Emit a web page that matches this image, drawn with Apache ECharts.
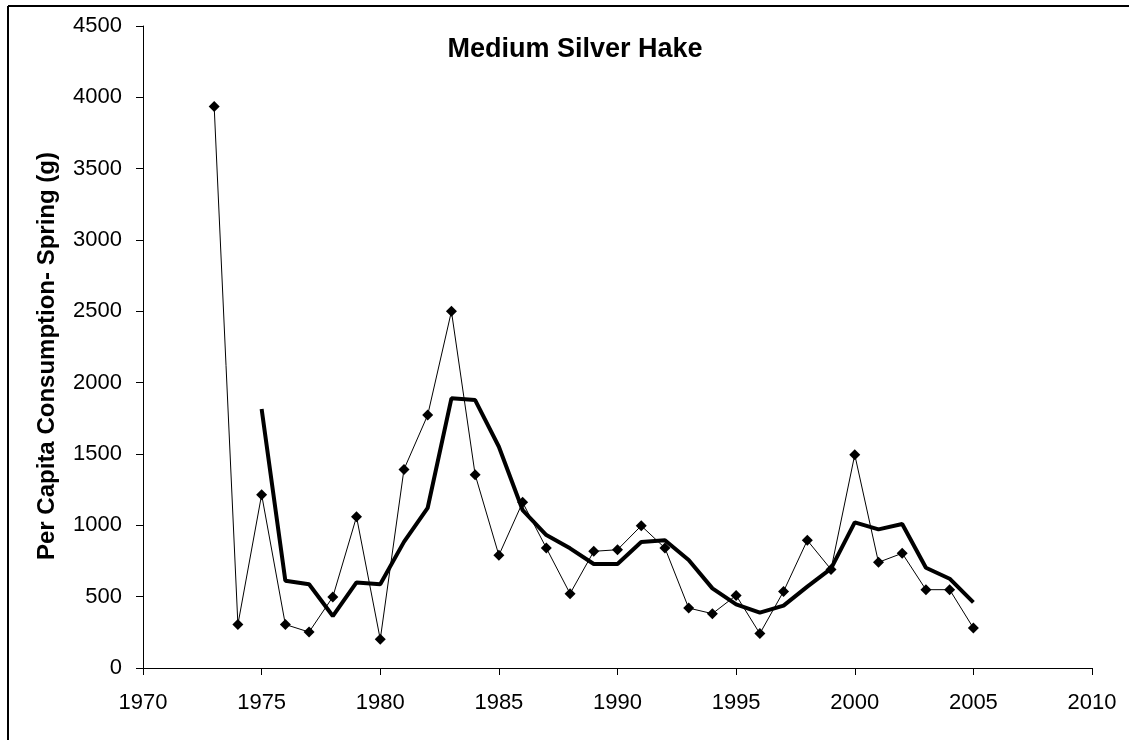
<!DOCTYPE html>
<html>
<head>
<meta charset="utf-8">
<script src="https://cdn.jsdelivr.net/npm/echarts@6/dist/echarts.min.js"></script>
<style>
html,body{margin:0;padding:0;background:#fff;}
#chart{width:1129px;height:740px;}
</style>
</head>
<body>
<div id="chart"></div>
<script>
var titleText = "Medium Silver Hake";
var yAxisName = "Per Capita Consumption- Spring (g)";
var years = [1973,1974,1975,1976,1977,1978,1979,1980,1981,1982,1983,1984,1985,1986,1987,1988,1989,1990,1991,1992,1993,1994,1995,1996,1997,1998,1999,2000,2001,2002,2003,2004,2005];
var annualValues = [3935,305,1215,305,252,498,1060,201,1392,1773,2500,1355,790,1161,841,521,818,829,997,841,420,381,509,241,537,895,691,1495,741,804,549,549,280];
var avgYears = [1975,1976,1977,1978,1979,1980,1981,1982,1983,1984,1985,1986,1987,1988,1989,1990,1991,1992,1993,1994,1995,1996,1997,1998,1999,2000,2001,2002,2003,2004,2005];
var avgValues = [1815,612,587,364,600,587,884,1123,1890,1878,1551,1107,932,839,729,729,883,895,757,558,446,388,437,570,696,1021,972,1009,703,626,460];
var xTicks = {min:1970, max:2010, interval:5};
var yTicks = {min:0, max:4500, interval:500};

function pairs(xs, ys){ return xs.map(function(x,i){ return [x, ys[i]]; }); }

var chart = echarts.init(document.getElementById('chart'), null, {renderer:'canvas'});
var font = 'Liberation Sans, Arial, sans-serif';
chart.setOption({
  animation:false,
  backgroundColor:'#fff',
  graphic:[
    {type:'line', shape:{x1:8,y1:6,x2:1129,y2:6}, style:{stroke:'#000', lineWidth:2}},
    {type:'line', shape:{x1:8,y1:6,x2:8,y2:740}, style:{stroke:'#000', lineWidth:2}},
    {type:'text', x:575, y:50,
     style:{text:titleText, fontFamily:font, fontWeight:'bold', fontSize:27, fill:'#000', align:'center', verticalAlign:'middle'}},
    {type:'text', x:47, y:356, rotation:Math.PI/2,
     style:{text:yAxisName, fontFamily:font, fontWeight:'bold', fontSize:24, fill:'#000', align:'center', verticalAlign:'middle'}}
  ],
  grid:{left:143, right:37, top:26, bottom:72, containLabel:false},
  xAxis:{
    type:'value', min:xTicks.min, max:xTicks.max, interval:xTicks.interval,
    axisLine:{lineStyle:{color:'#000', width:1}},
    axisTick:{show:true, length:7, lineStyle:{color:'#000'}},
    axisLabel:{color:'#000', fontFamily:font, fontSize:22, margin:24, formatter:function(v){return String(v);}},
    splitLine:{show:false}
  },
  yAxis:{
    type:'value', min:yTicks.min, max:yTicks.max, interval:yTicks.interval,
    axisLine:{show:true, lineStyle:{color:'#000', width:1}},
    axisTick:{show:true, length:7, lineStyle:{color:'#000'}},
    axisLabel:{color:'#000', fontFamily:font, fontSize:22, margin:21, formatter:function(v){return String(v);}},
    splitLine:{show:false}
  },
  series:[
    {type:'line', data:pairs(years, annualValues), symbol:'diamond', symbolSize:11,
     itemStyle:{color:'#000'}, lineStyle:{color:'#000', width:1}, z:3},
    {type:'line', data:pairs(avgYears, avgValues), symbol:'none',
     lineStyle:{color:'#000', width:4}, z:2}
  ]
});
</script>
</body>
</html>
